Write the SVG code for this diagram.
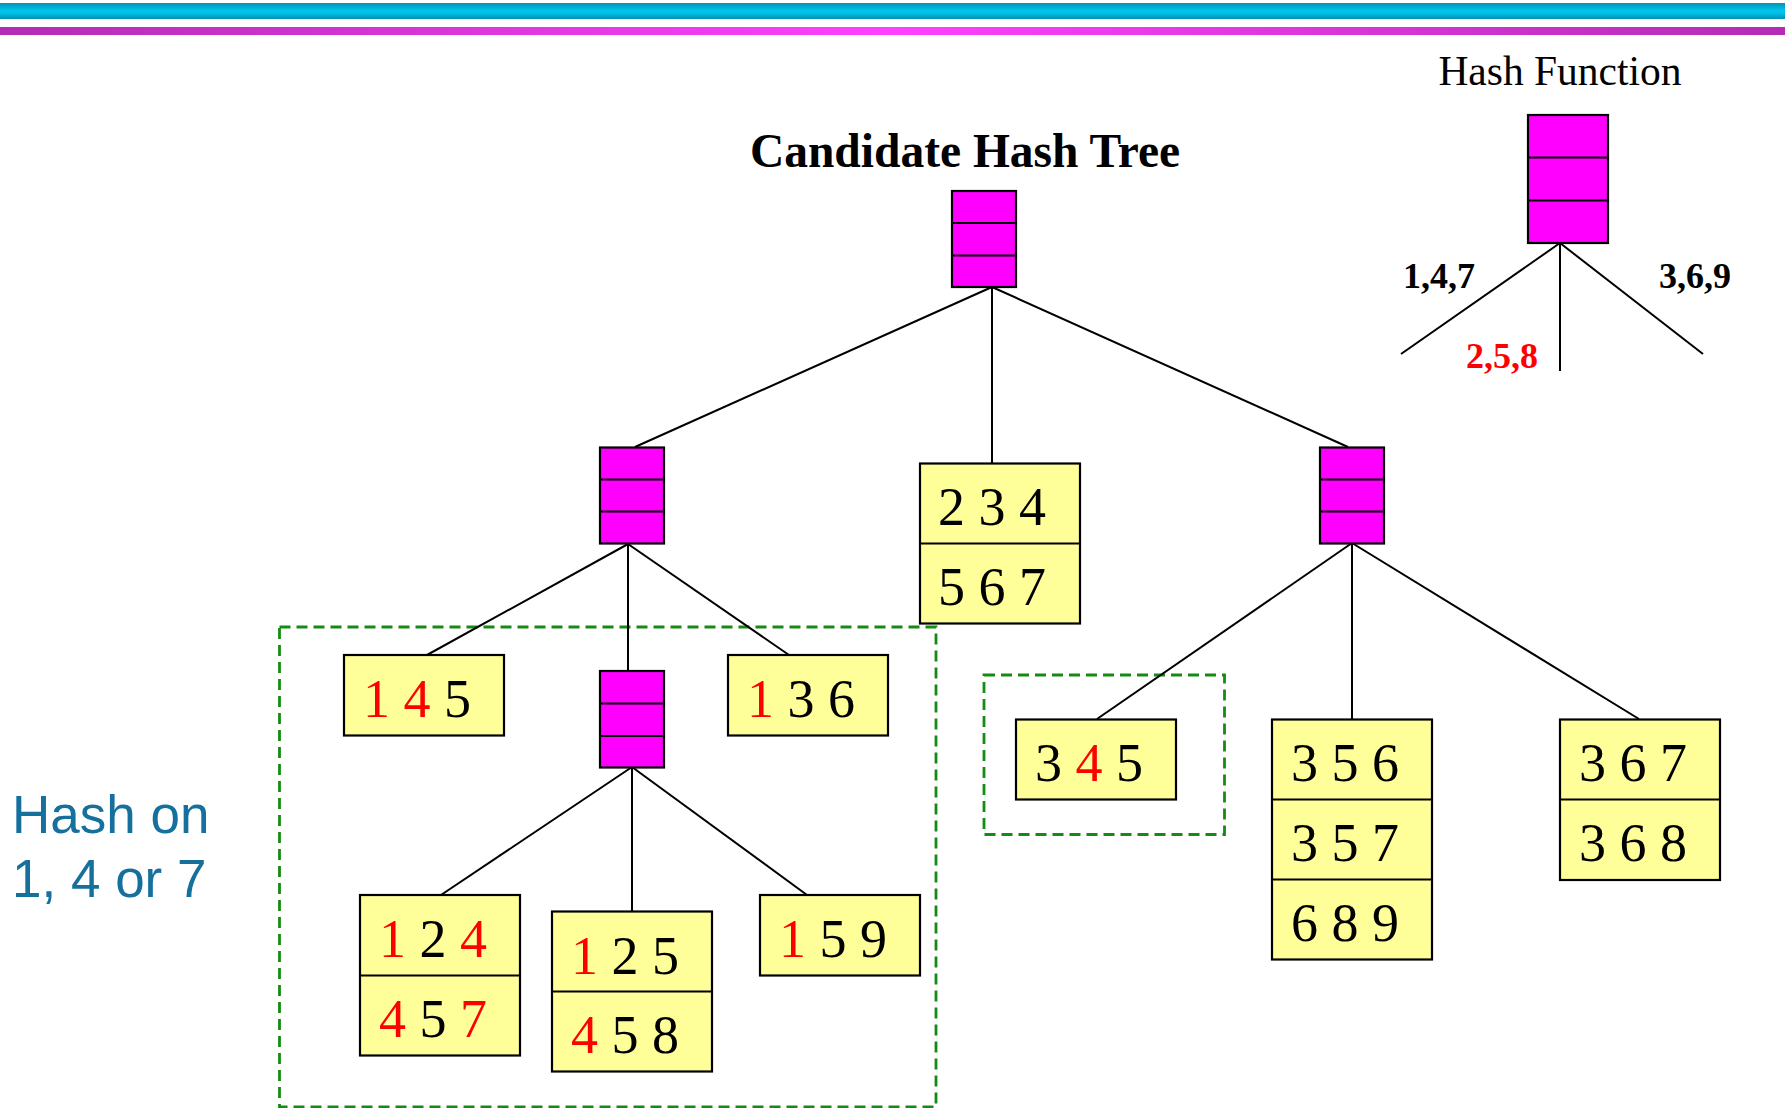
<svg xmlns="http://www.w3.org/2000/svg" width="1787" height="1108" viewBox="0 0 1787 1108">
  <defs>
    <linearGradient id="bandCyan" x1="0" y1="0" x2="0" y2="1">
      <stop offset="0" stop-color="#0492b4"/>
      <stop offset="0.45" stop-color="#00c3ea"/>
      <stop offset="0.6" stop-color="#00c3ea"/>
      <stop offset="1" stop-color="#0490b2"/>
    </linearGradient>
    <linearGradient id="bandMagenta" x1="0" y1="0" x2="1" y2="0">
      <stop offset="0" stop-color="#b42cb4"/>
      <stop offset="0.5" stop-color="#ff40ff"/>
      <stop offset="1" stop-color="#b42cb4"/>
    </linearGradient>
  </defs>
  <style>
    .hash { fill: #ff00ff; stroke: #000; stroke-width: 2.2; }
    .leaf { fill: #ffff99; stroke: #000; stroke-width: 2.2; }
    .div { stroke: #000; stroke-width: 2.2; }
    .edge { stroke: #000; stroke-width: 2; fill: none; }
    .group { fill: none; stroke: #148c14; stroke-width: 2.8; stroke-dasharray: 11 6; }
    .num { font-family: "Liberation Serif", "Times New Roman", serif; font-size: 54px; fill: #000; }
    .title { font-family: "Liberation Serif", "Times New Roman", serif; font-weight: bold; font-size: 47.5px; fill: #000; }
    .fn { font-family: "Liberation Serif", "Times New Roman", serif; font-size: 41.5px; fill: #000; }
    .lab { font-family: "Liberation Serif", "Times New Roman", serif; font-weight: bold; font-size: 36px; fill: #000; }
    .note { font-family: "Liberation Sans", Arial, sans-serif; font-size: 53px; fill: #15709e; }
    /* highlighted digits; declared last so it wins over the text classes */
    .r { fill: #ff0000; }
  </style>

  <!-- header bands -->
  <rect x="0" y="3" width="1785" height="16" fill="url(#bandCyan)"/>
  <rect x="0" y="27" width="1785" height="8" fill="url(#bandMagenta)"/>

  <!-- titles -->
  <text class="title" x="965" y="167" text-anchor="middle">Candidate Hash Tree</text>
  <text class="fn" x="1560" y="85" text-anchor="middle">Hash Function</text>
  <g id="note">
    <text class="note" x="12" y="833">Hash on</text>
    <text class="note" x="12" y="897">1, 4 or 7</text>
  </g>

  <!-- dashed groupings -->
  <rect class="group" x="279.5" y="627" width="656.5" height="480"/>
  <rect class="group" x="984" y="675" width="240.5" height="159.5"/>

  <!-- connectors -->
  <g id="connectors">
    <!-- hash function legend -->
    <line class="edge" x1="1560" y1="243" x2="1401" y2="354"/>
    <line class="edge" x1="1560" y1="243" x2="1560" y2="371"/>
    <line class="edge" x1="1560" y1="243" x2="1703" y2="354"/>
    <!-- root -->
    <line class="edge" x1="992" y1="287" x2="635" y2="447"/>
    <line class="edge" x1="992" y1="287" x2="992" y2="463"/>
    <line class="edge" x1="992" y1="287" x2="1348" y2="447"/>
    <!-- left inner node -->
    <line class="edge" x1="628" y1="544" x2="427" y2="655"/>
    <line class="edge" x1="628" y1="544" x2="628" y2="671"/>
    <line class="edge" x1="628" y1="544" x2="789" y2="655"/>
    <!-- lower inner node -->
    <line class="edge" x1="632" y1="767" x2="441" y2="895"/>
    <line class="edge" x1="632" y1="767" x2="632" y2="912"/>
    <line class="edge" x1="632" y1="767" x2="807" y2="895"/>
    <!-- right inner node -->
    <line class="edge" x1="1352" y1="543" x2="1097" y2="719"/>
    <line class="edge" x1="1352" y1="543" x2="1352" y2="719"/>
    <line class="edge" x1="1352" y1="543" x2="1639" y2="719"/>
  </g>
  <g id="legend-labels">
    <text class="lab" x="1403" y="288">1,4,7</text>
    <text class="lab r" x="1466" y="368">2,5,8</text>
    <text class="lab" x="1659" y="288">3,6,9</text>
  </g>

  <!-- hash nodes -->
  <g id="hash-fn">
    <rect class="hash" x="1528" y="115" width="80" height="128"/>
    <line class="div" x1="1528" y1="157.5" x2="1608" y2="157.5"/>
    <line class="div" x1="1528" y1="200.5" x2="1608" y2="200.5"/>
  </g>
  <g id="root">
    <rect class="hash" x="952" y="191" width="64" height="96"/>
    <line class="div" x1="952" y1="223" x2="1016" y2="223"/>
    <line class="div" x1="952" y1="255.5" x2="1016" y2="255.5"/>
  </g>
  <g id="hash-left">
    <rect class="hash" x="600" y="447.5" width="64" height="96"/>
    <line class="div" x1="600" y1="479.5" x2="664" y2="479.5"/>
    <line class="div" x1="600" y1="511.5" x2="664" y2="511.5"/>
  </g>
  <g id="hash-right">
    <rect class="hash" x="1320" y="447.5" width="64" height="96"/>
    <line class="div" x1="1320" y1="479.5" x2="1384" y2="479.5"/>
    <line class="div" x1="1320" y1="511.5" x2="1384" y2="511.5"/>
  </g>
  <g id="hash-lower">
    <rect class="hash" x="600" y="671" width="64" height="96.5"/>
    <line class="div" x1="600" y1="703.5" x2="664" y2="703.5"/>
    <line class="div" x1="600" y1="736" x2="664" y2="736"/>
  </g>

  <!-- leaf buckets -->
  <g id="leaf-234">
    <rect class="leaf" x="920" y="463.5" width="160" height="160"/>
    <line class="div" x1="920" y1="543.5" x2="1080" y2="543.5"/>
    <text class="num" x="938" y="525">2 3 4</text>
    <text class="num" x="938" y="605">5 6 7</text>
  </g>
  <g id="leaf-145">
    <rect class="leaf" x="344" y="655" width="160" height="80.5"/>
    <text class="num" x="363" y="717"><tspan class="r">1 4</tspan> 5</text>
  </g>
  <g id="leaf-136">
    <rect class="leaf" x="728" y="655" width="160" height="80.5"/>
    <text class="num" x="747" y="717"><tspan class="r">1</tspan> 3 6</text>
  </g>
  <g id="leaf-124">
    <rect class="leaf" x="360" y="895" width="160" height="160.5"/>
    <line class="div" x1="360" y1="975.5" x2="520" y2="975.5"/>
    <text class="num" x="379" y="957"><tspan class="r">1</tspan> 2 <tspan class="r">4</tspan></text>
    <text class="num" x="379" y="1037"><tspan class="r">4</tspan> 5 <tspan class="r">7</tspan></text>
  </g>
  <g id="leaf-125">
    <rect class="leaf" x="552" y="911.5" width="160" height="160"/>
    <line class="div" x1="552" y1="991.5" x2="712" y2="991.5"/>
    <text class="num" x="571" y="973.5"><tspan class="r">1</tspan> 2 5</text>
    <text class="num" x="571" y="1053"><tspan class="r">4</tspan> 5 8</text>
  </g>
  <g id="leaf-159">
    <rect class="leaf" x="760" y="895" width="160" height="80.5"/>
    <text class="num" x="779" y="957"><tspan class="r">1</tspan> 5 9</text>
  </g>
  <g id="leaf-345">
    <rect class="leaf" x="1016" y="719.5" width="160" height="80"/>
    <text class="num" x="1035" y="781">3 <tspan class="r">4</tspan> 5</text>
  </g>
  <g id="leaf-356">
    <rect class="leaf" x="1272" y="719.5" width="160" height="240"/>
    <line class="div" x1="1272" y1="799.5" x2="1432" y2="799.5"/>
    <line class="div" x1="1272" y1="879.5" x2="1432" y2="879.5"/>
    <text class="num" x="1291" y="781">3 5 6</text>
    <text class="num" x="1291" y="861">3 5 7</text>
    <text class="num" x="1291" y="941">6 8 9</text>
  </g>
  <g id="leaf-367">
    <rect class="leaf" x="1560" y="719.5" width="160" height="160.5"/>
    <line class="div" x1="1560" y1="799.5" x2="1720" y2="799.5"/>
    <text class="num" x="1579" y="781">3 6 7</text>
    <text class="num" x="1579" y="861">3 6 8</text>
  </g>
</svg>
